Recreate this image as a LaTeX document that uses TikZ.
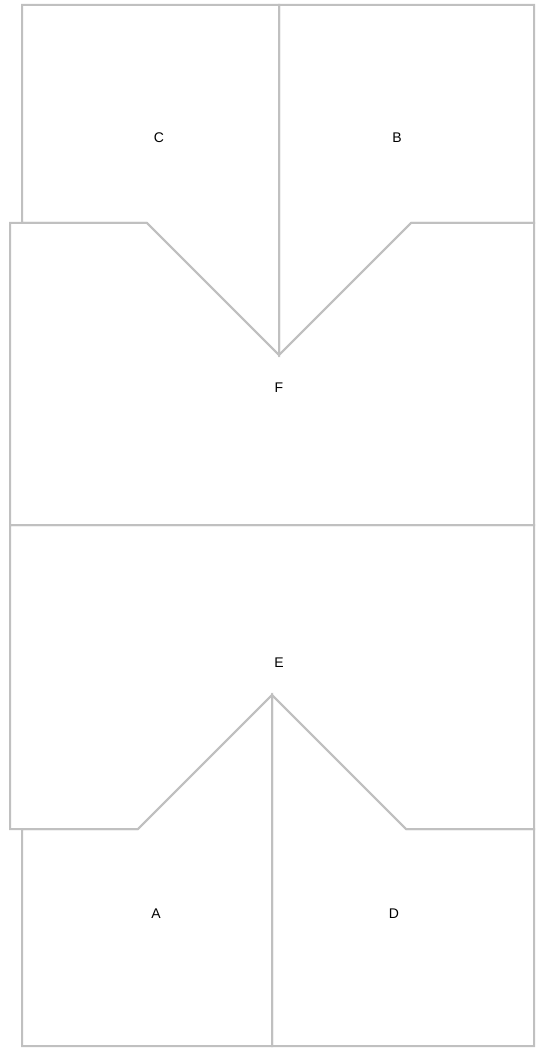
\documentclass[tikz,border=0pt]{standalone}
\usepackage{fontspec}
\setmainfont{Liberation Sans}
\usepackage{xcolor}
\definecolor{wallgray}{RGB}{192,192,192}
\tikzset{
    room/.style={
        draw=wallgray,
        line width=2pt,
        line join=miter
    },
    roomlabel/.style={
        font=\fontsize{14}{16}\selectfont,
        inner sep=0pt
    }
}
\begin{document}
\begin{tikzpicture}[x=1pt, y=-1pt]
\useasboundingbox (0,0) rectangle (536,1048);

% upper wing
\draw[room] (22,5) -- (279,5) -- (279,355) -- (147,223) -- (22,223) -- cycle;
\draw[room] (279,5) -- (534,5) -- (534,223) -- (411,223) -- (279,355) -- cycle;
\draw[room] (10,223) -- (147,223) -- (279,355) -- (411,223) -- (534,223)
    -- (534,525) -- (10,525) -- cycle;

% lower wing
\draw[room] (10,525) -- (534,525) -- (534,829) -- (406,829) -- (272,695)
    -- (138,829) -- (10,829) -- cycle;
\draw[room] (22,829) -- (138,829) -- (272,695) -- (272,1046) -- (22,1046) -- cycle;
\draw[room] (272,695) -- (406,829) -- (534,829) -- (534,1046) -- (272,1046) -- cycle;

\node[roomlabel] (roomC) at (159,138) {C};
\node[roomlabel] (roomB) at (397,138) {B};
\node[roomlabel] (roomF) at (279,388) {F};
\node[roomlabel] (roomE) at (279,663) {E};
\node[roomlabel] (roomA) at (156,914) {A};
\node[roomlabel] (roomD) at (394,914) {D};
\end{tikzpicture}
\end{document}
